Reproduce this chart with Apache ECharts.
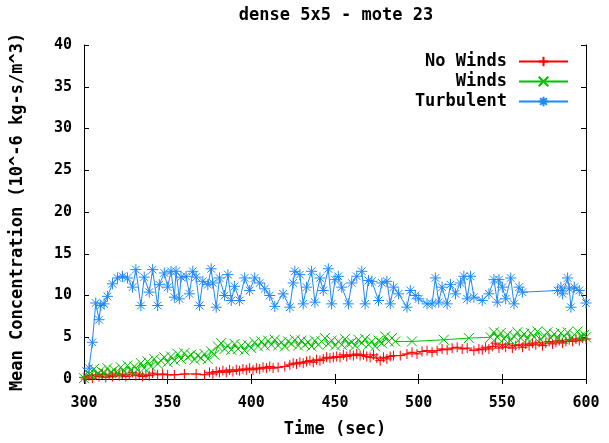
<!DOCTYPE html>
<html>
<head>
<meta charset="utf-8">
<script src="https://cdn.jsdelivr.net/npm/echarts@6/dist/echarts.min.js"></script>
<style>
html,body{margin:0;padding:0;background:#fff;}
#chart{width:609px;height:443px;}
</style>
</head>
<body>
<div id="chart"></div>
<script>
// ---- Data ----
var titleText = 'dense 5x5 - mote 23';
var xTicks = [300, 350, 400, 450, 500, 550, 600];
var yTicks = [0, 5, 10, 15, 20, 25, 30, 35, 40];
var seriesNames = ['No Winds', 'Winds', 'Turbulent'];

var noWindsTime = [300,301,303,305,307,309,311,313,315,317,319,321,323,325,327,329,331,333,335,337,339,341,344,347,350,354,360,367,372,375,377,379,381,383,385,387,389,391,393,395,397,399,401,403,405,407,409,411,413,416,420,423,425,427,429,431,433,435,437,439,441,443,445,447,449,451,453,455,457,459,461,463,465,467,469,471,473,475,477,479,481,483,485,489,493,496,499,502,505,508,511,514,517,520,523,526,529,533,536,538,540,542,544,546,548,550,552,554,556,558,560,562,564,566,568,570,572,574,576,578,580,582,584,586,588,590,592,594,596,598,600];
var noWindsValue = [0.2,0.0,0.4,0.1,0.5,0.3,0.6,0.2,0.5,0.3,0.7,0.4,0.6,0.3,0.5,0.8,0.4,0.6,0.3,0.5,0.4,0.7,0.5,0.6,0.5,0.5,0.6,0.6,0.5,0.8,0.6,0.9,0.8,1.0,0.8,1.1,0.9,1.1,1.0,1.2,1.1,1.3,1.1,1.3,1.2,1.4,1.3,1.5,1.3,1.4,1.5,1.7,1.9,1.8,2.0,1.9,2.1,2.2,2.0,2.3,2.2,2.4,2.6,2.5,2.6,2.7,2.6,2.9,2.7,2.9,2.8,3.0,2.8,2.9,2.7,2.6,2.9,2.5,2.2,2.6,2.4,2.7,2.8,2.8,3.0,3.2,3.0,3.3,3.4,3.2,3.4,3.6,3.5,3.7,3.8,3.6,3.7,3.4,3.6,3.5,3.8,3.6,3.9,4.3,3.7,4.1,3.8,4.2,3.7,4.0,4.1,3.8,4.2,4.0,4.3,4.1,4.4,4.0,4.3,4.5,4.2,4.4,4.6,4.3,4.5,4.7,4.5,4.8,4.6,4.9,4.8];

var windsTime = [300,302,304,306,308,310,312,314,316,318,320,322,324,326,328,330,332,334,336,338,340,342,344,346,348,350,352,354,356,358,360,362,364,366,368,370,372,374,376,378,380,382,384,386,388,390,392,394,396,398,400,402,404,406,408,410,412,414,416,418,420,422,424,426,428,430,432,434,436,438,440,442,444,446,448,450,452,454,456,458,460,462,464,466,468,470,472,474,476,478,480,482,484,486,496,515,530,543,545,547,549,551,553,555,557,559,561,563,565,567,569,571,573,575,577,579,581,583,585,587,589,591,593,595,597,599,600];
var windsValue = [0.1,0.8,0.5,1.2,0.6,1.0,0.7,1.3,0.8,1.1,0.6,1.4,0.9,1.6,1.0,1.5,1.1,1.9,1.3,2.1,1.5,2.4,1.8,2.2,2.6,2.0,2.7,2.2,3.0,2.4,3.1,2.6,2.9,2.3,2.8,2.5,3.0,2.4,3.3,2.9,3.9,4.3,3.6,4.0,3.5,4.2,3.6,4.0,3.4,4.1,3.7,4.4,3.9,4.5,4.0,4.6,4.1,4.7,4.0,4.4,3.9,4.5,4.2,4.7,4.0,4.6,4.1,4.4,3.9,4.6,4.1,4.5,4.9,4.2,4.6,4.0,4.5,4.1,4.8,4.2,4.4,4.0,4.7,4.3,4.8,4.1,4.5,3.9,4.6,4.3,5.1,4.5,4.9,4.5,4.5,4.7,4.9,5.0,5.6,5.0,5.5,4.8,5.3,4.6,5.1,5.6,4.9,5.4,4.8,5.5,5.0,5.7,4.7,5.2,5.6,4.9,5.4,4.8,5.5,5.1,5.6,4.9,5.3,5.7,5.1,5.3,5.0];

var turbulentTime = [303,305,307,309,310,312,314,317,320,323,326,329,331,334,336,339,341,344,345,348,350,352,354,355,357,358,361,363,365,367,369,371,374,376,377,379,381,384,386,388,390,393,396,399,402,405,408,411,414,419,423,425,426,429,431,433,436,438,441,443,446,448,450,452,454,458,460,463,466,468,470,472,476,478,481,483,485,488,493,495,498,500,505,508,510,512,514,517,519,522,525,527,529,531,533,538,542,545,547,548,550,552,555,557,560,562,583,585,586,589,590,591,593,596,600];
var turbulentValue = [1.3,4.4,9.1,7.1,8.8,9.0,9.9,11.4,12.1,12.3,12.1,11.0,13.1,8.8,12.2,10.4,13.1,8.8,11.3,12.7,11.0,12.9,9.8,12.9,9.6,12.2,12.3,10.2,12.9,12.2,8.8,11.7,11.3,13.2,11.5,8.6,12.1,10.0,12.5,9.4,11.1,9.4,12.1,10.6,12.1,11.5,10.8,10.0,8.7,10.2,8.6,11.5,12.9,12.5,9.0,11.0,12.9,9.2,12.1,10.6,13.2,9.0,11.9,12.3,11.0,9.0,11.5,12.3,12.9,9.0,11.8,11.7,9.4,11.5,11.7,9.0,11.0,10.2,8.6,10.6,10.0,9.6,9.0,9.0,12.1,9.2,11.0,9.0,11.3,10.2,11.5,12.3,9.6,12.3,9.8,9.4,10.2,11.9,9.2,11.9,11.0,9.6,12.1,9.0,11.0,10.4,10.6,11.0,10.2,12.1,10.8,8.6,11.0,10.6,9.1];

// ---- Chart ----
var FONT = 'DejaVu Sans Mono';
var colors = ['#ff0000', '#00c000', '#1e88ff'];
var symbols = [
  'path://M0,5L10,5M5,0L5,10',
  'path://M0,0L10,10M10,0L0,10',
  'path://M0,5L10,5M5,0L5,10M1.5,1.5L8.5,8.5M8.5,1.5L1.5,8.5'
];
var symbolSizes = [10, 10, 11];
var times = [noWindsTime, windsTime, turbulentTime];
var values = [noWindsValue, windsValue, turbulentValue];

function pairs(t, v) { return t.map(function (x, i) { return [x, v[i]]; }); }

var series = seriesNames.map(function (name, k) {
  return {
    name: name,
    type: 'line',
    data: pairs(times[k], values[k]),
    symbol: symbols[k],
    symbolSize: symbolSizes[k],
    showAllSymbol: true,
    clip: false,
    lineStyle: { color: colors[k], width: 1 },
    itemStyle: { color: colors[k], borderColor: colors[k], borderWidth: 1 },
    emphasis: { disabled: true },
    animation: false,
    z: 2 + k
  };
});

var xMin = xTicks[0], xMax = xTicks[xTicks.length - 1];
var yMin = yTicks[0], yMax = yTicks[yTicks.length - 1];
var xInt = xTicks[1] - xTicks[0], yInt = yTicks[1] - yTicks[0];

var axisLineStyle = { show: true, lineStyle: { color: '#000', width: 1 } };
var tickStyle = { show: true, inside: true, length: 5, lineStyle: { color: '#000', width: 1 } };
var labelStyle = { fontFamily: FONT, fontWeight: 'bold', fontSize: 15, color: '#000' };
var nameStyle = { fontFamily: FONT, fontWeight: 'bold', fontSize: 17, color: '#000' };

var chart = echarts.init(document.getElementById('chart'), null, { renderer: 'canvas' });
chart.setOption({
  animation: false,
  backgroundColor: '#fff',
  title: {
    text: titleText,
    left: 336,
    textAlign: 'center',
    top: 7,
    padding: 0,
    textStyle: nameStyle
  },
  legend: {
    orient: 'vertical',
    right: 40,
    top: 53,
    padding: 0,
    align: 'right',
    itemWidth: 49,
    itemHeight: 12,
    itemGap: 3,
    selectedMode: false,
    data: seriesNames,
    textStyle: Object.assign({ lineHeight: 17, padding: [0, 7, 0, 0] }, nameStyle)
  },
  grid: { left: 84, right: 23, top: 45, bottom: 56, containLabel: false },
  xAxis: [
    {
      type: 'value', min: xMin, max: xMax, interval: xInt, position: 'bottom',
      name: 'Time (sec)', nameLocation: 'middle', nameGap: 42,
      nameTextStyle: nameStyle,
      axisLine: axisLineStyle, axisTick: tickStyle,
      axisLabel: Object.assign({ margin: 17 }, labelStyle),
      splitLine: { show: false }
    },
    {
      type: 'value', min: xMin, max: xMax, interval: xInt, position: 'top',
      axisLine: axisLineStyle, axisTick: tickStyle,
      axisLabel: { show: false }, splitLine: { show: false }
    }
  ],
  yAxis: [
    {
      type: 'value', min: yMin, max: yMax, interval: yInt, position: 'left',
      name: 'Mean Concentration (10^-6 kg-s/m^3)', nameLocation: 'middle', nameGap: 58, nameRotate: 90,
      nameTextStyle: nameStyle,
      axisLine: axisLineStyle, axisTick: tickStyle,
      axisLabel: Object.assign({ margin: 12 }, labelStyle),
      splitLine: { show: false }
    },
    {
      type: 'value', min: yMin, max: yMax, interval: yInt, position: 'right',
      axisLine: axisLineStyle, axisTick: tickStyle,
      axisLabel: { show: false }, splitLine: { show: false }
    }
  ],
  series: series
});
</script>
</body>
</html>
